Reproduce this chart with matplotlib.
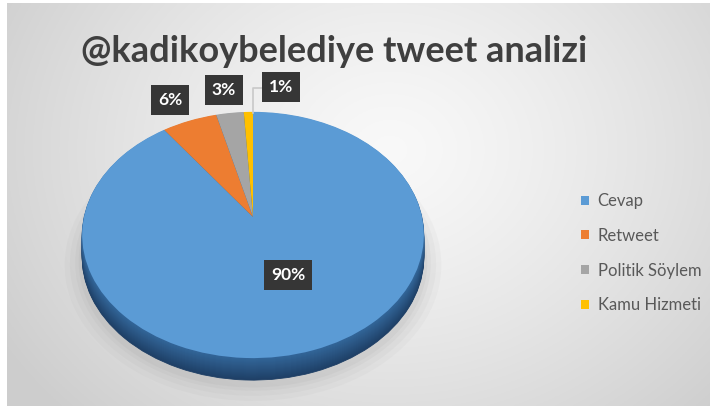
import numpy as np
import matplotlib
matplotlib.use("Agg")
import matplotlib.pyplot as plt
from matplotlib.transforms import Transform
from matplotlib.patches import PathPatch, Path

plt.rcParams['font.family'] = ['Lato', 'DejaVu Sans']

# veriler
title = "@kadikoybelediye tweet analizi"
labels = ["Cevap", "Retweet", "Politik Söylem", "Kamu Hizmeti"]
values = [90, 6, 3, 1]
colors = ["#5b9bd5", "#ed7d31", "#a5a5a5", "#ffc000"]

W, H = 710, 412
# 3B pasta geometrisi (piksel)
CX, CY = 253, 217       # dilimlerin tepe noktası
A, B, K = 169.0, 120.5, 0.146
DEPTH = 22


class Perspective(Transform):
    """Birim daireyi perspektifli elipse çevirir."""
    input_dims = 2
    output_dims = 2
    is_separable = False
    has_inverse = False

    def __init__(self, dy=0.0, scale=1.0):
        super().__init__()
        self.dy = dy
        self.scale = scale

    def transform_non_affine(self, values):
        values = np.asarray(values, dtype=float)
        u = values[:, 0] * self.scale
        v = values[:, 1] * self.scale
        den = 1 + K * v
        x = CX + A * u / den
        y = CY - B * v / den + self.dy
        return np.column_stack([x, y])


fig = plt.figure(figsize=(W / 100, H / 100), dpi=100)
ax = fig.add_axes([0, 0, 1, 1])

# arka plan gradyanı
gx, gy = np.meshgrid(np.linspace(7, W, 400), np.linspace(3, 406, 240))
dist = np.sqrt(((gx - 390) / 1.2) ** 2 + (gy - 150) ** 2)
t = np.clip(dist / 380, 0, 1)
bg = 0.975 - 0.17 * t ** 1.3
ax.imshow(np.dstack([bg, bg, bg]), extent=(7, W, 406, 3), aspect='auto', zorder=0)

wedges, _ = ax.pie(values, colors=colors, startangle=90, counterclock=False,
                   wedgeprops=dict(linewidth=0))

# gölge
for s, a in [(1.10, 0.05), (1.07, 0.06), (1.04, 0.07), (1.02, 0.08)]:
    circ = Path.circle((0, 0), 1.0)
    ax.add_patch(PathPatch(circ, transform=Perspective(DEPTH + 4, s) + ax.transData,
                           facecolor="#8a8a8a", edgecolor="none", alpha=a, zorder=1))

# yan yüzey
side_top = np.array([0.20, 0.40, 0.60])
side_bot = np.array([0.12, 0.25, 0.40])
for d in range(DEPTH, 0, -1):
    f = d / DEPTH
    c = side_top * (1 - f) + side_bot * f
    for w in wedges:
        ax.add_patch(PathPatch(w.get_path(), transform=Perspective(d) + ax.transData,
                               facecolor=c, edgecolor=c, linewidth=0.6, zorder=2))

for w in wedges:
    w.set_transform(Perspective() + ax.transData)
    w.set_zorder(3)

ax.set_xlim(0, W)
ax.set_ylim(H, 0)
ax.set_aspect('auto')
ax.axis('off')

# yüzde etiketleri
box = dict(boxstyle='square,pad=0.42', facecolor='#363636', edgecolor='none')
label_pos = [(288, 275), (170, 100), (224, 90), (281, 87)]
for val, (x, y) in zip(values, label_pos):
    ax.text(x, y, f"{val}%", ha='center', va='center', fontsize=12.5,
            fontweight='bold', color='white', bbox=box, zorder=6)

# 1% için kılavuz çizgi
ax.plot([253, 253, 262], [113, 88, 88], color='#c8c8c8', lw=1.2, zorder=5)

ax.text(334, 62, title, ha='center', va='baseline', fontsize=26,
        fontweight='bold', color='#3f3f3f', zorder=6)

leg = ax.legend(wedges, labels, loc='upper left', bbox_to_anchor=(566, 178),
                bbox_transform=ax.transData, frameon=False, fontsize=12,
                handlelength=0.45, handleheight=0.45, handletextpad=0.55,
                labelspacing=1.13, labelcolor='#595959')

fig.savefig("out.png", dpi=100, facecolor='white')
